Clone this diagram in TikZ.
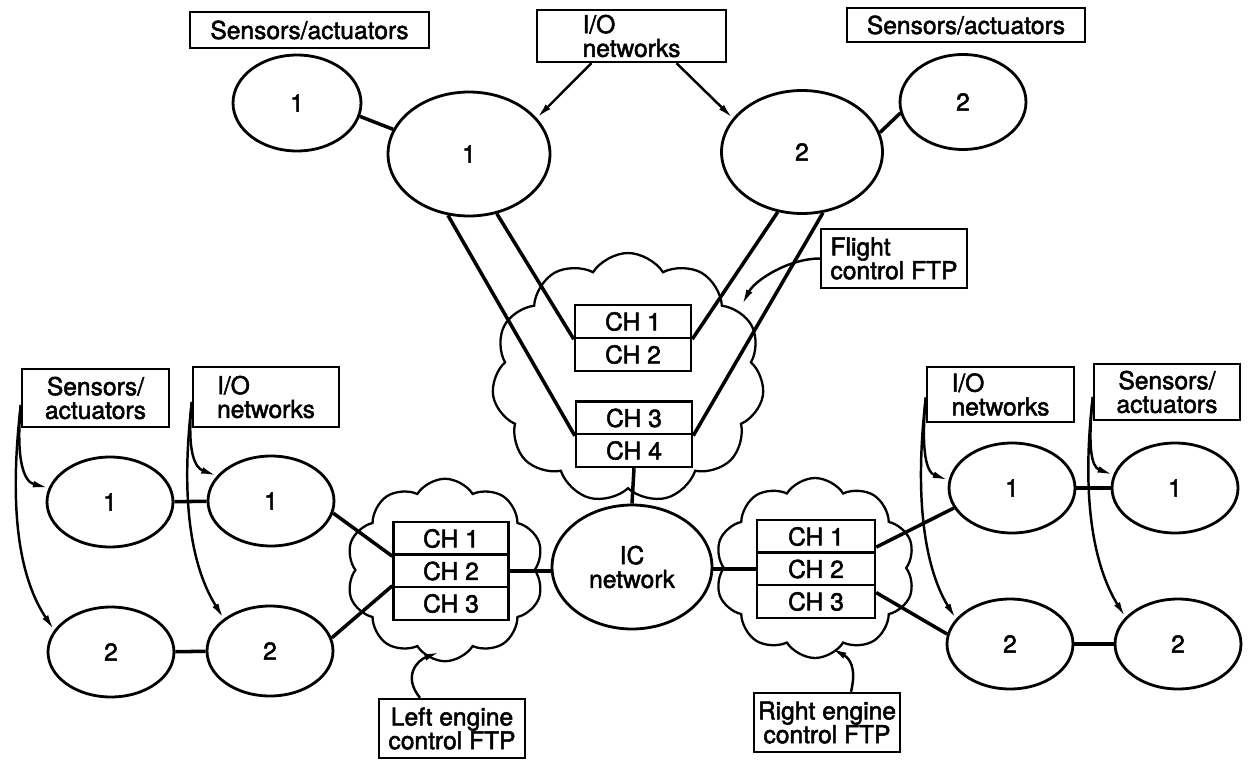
\documentclass[tikz,border=0pt]{standalone}
\usepackage{fontspec}
\setmainfont{TeX Gyre Heros}[FakeBold=2]
\usetikzlibrary{shapes.geometric,shapes.symbols,arrows.meta,calc}
\begin{document}
\begin{tikzpicture}[x=0.02cm,y=-0.02cm,
  every node/.style={font=\fontsize{14}{13.5}\selectfont},
  lbl/.style={draw,line width=1.4pt,fill=white,inner sep=2pt},
  oval/.style={ellipse,draw,line width=1.6pt,fill=white,inner sep=0pt},
  small oval/.style={oval,minimum width=2.52cm,minimum height=1.8cm},
  chan/.style={draw,line width=1.4pt,fill=white,minimum width=2.32cm,minimum height=0.66cm,inner sep=0pt},
  ftp/.style={cloud,draw,line width=1.3pt,cloud puffs=11,cloud puff arc=115,cloud ignores aspect},
  link/.style={line width=2pt},
  feed/.style={line width=1.4pt,-{Latex[length=9pt,width=3.8pt]}},
]
\useasboundingbox (0,0) rectangle (1250,760);

% fault-tolerant processors (clouds)
\node[ftp,minimum width=5.45cm,minimum height=5cm] (TC) at (628,378) {};
\node[ftp,cloud puffs=10,minimum width=3.95cm,minimum height=3.65cm] (LC) at (445,570) {};
\node[ftp,cloud puffs=10,minimum width=4cm,minimum height=3.6cm] (RC) at (815,568) {};

% channels
\node[chan] (T1) at (633,321.5) {CH 1};
\node[chan] (T2) at (633,354.5) {CH 2};
\node[chan] (T3) at (634,418) {CH 3};
\node[chan] (T4) at (634,450.5) {CH 4};
\node[chan,minimum width=2.3cm] (L1) at (451,538.5) {CH 1};
\node[chan,minimum width=2.3cm] (L2) at (451,571) {CH 2};
\node[chan,minimum width=2.3cm] (L3) at (451,603.5) {CH 3};
\node[chan,minimum width=2.36cm] (R1) at (816,536.5) {CH 1};
\node[chan,minimum width=2.36cm] (R2) at (816,569) {CH 2};
\node[chan,minimum width=2.36cm] (R3) at (816,601.5) {CH 3};

% networks
\node[oval,minimum width=2.56cm,minimum height=1.92cm] (s1) at (297,103) {1};
\node[oval,minimum width=3.24cm,minimum height=2.48cm] (E1) at (469,154) {1};
\node[oval,minimum width=3.22cm,minimum height=2.46cm] (E2) at (802,152) {2};
\node[oval,minimum width=2.52cm,minimum height=1.9cm] (s2) at (963,102) {2};
\node[oval,minimum width=3.2cm,minimum height=2.48cm,align=center] (IC) at (632,567) {IC\\network};
\node[small oval] (LS1) at (110,502) {1};
\node[small oval] (LIO1) at (271,501) {1};
\node[small oval] (LS2) at (111,652) {2};
\node[small oval] (LIO2) at (270,651) {2};
\node[small oval] (RIO1) at (1012,488) {1};
\node[small oval] (RS1) at (1175,488) {1};
\node[small oval] (RIO2) at (1010,644) {2};
\node[small oval] (RS2) at (1178,644) {2};

% labels
\node[lbl,minimum width=4.78cm,minimum height=0.72cm] (SAL) at (309.5,30) {Sensors/actuators};
\node[lbl,minimum width=3.78cm,minimum height=1.04cm,align=left] (IOT) at (631.5,36) {I/O\\networks};
\node[lbl,minimum width=4.76cm,minimum height=0.68cm] (SAR) at (966,25) {Sensors/actuators};
\node[lbl,minimum width=2.92cm,minimum height=1.18cm,align=left] (FC) at (894,258.5) {Flight\\control FTP};
\node[lbl,minimum width=2.94cm,minimum height=1.16cm,align=center] (LSB) at (95.5,398) {Sensors/\\actuators};
\node[lbl,minimum width=2.92cm,minimum height=1.2cm,align=left] (LIOB) at (266,397) {I/O\\networks};
\node[lbl,minimum width=2.94cm,minimum height=1.1cm,align=left] (RIOB) at (1000.5,394.5) {I/O\\networks};
\node[lbl,minimum width=2.92cm,minimum height=1.12cm,align=center] (RSB) at (1167,392) {Sensors/\\actuators};
\node[lbl,minimum width=2.92cm,minimum height=1.18cm,align=center,inner sep=1pt] (LE) at (452,728.5) {Left engine\\control FTP};
\node[lbl,minimum width=2.92cm,minimum height=1.18cm,align=center,inner sep=1pt] (RE) at (827,722.5) {Right engine\\control FTP};

% flight control links
\draw[link] (s1.348) -- (E1.162);
\draw[link] (E2.14) -- (s2.190);
\draw[feed] ($(IOT.south)+(-40,0)$) -- (E1.28);
\draw[feed] ($(IOT.south)+(45,0)$) -- (E2.154);
\draw[link] (E1.251) -- (T3.south west);
\draw[link] (E1.295) -- (T1.south west);
\draw[link] (E2.248) -- (T1.south east);
\draw[link] (E2.289) -- (T3.south east);
\draw[link] (T4.south) -- (IC.north);

% pointers to the processors
\coordinate (fcTip) at (742,305);
\coordinate (leTip) at (440,652);
\coordinate (reTip) at (831,648);
\draw[feed] (FC.west) .. controls +(-31,0) and +(13,-25) .. (fcTip);
\draw[feed] ($(LE.north)+(-32,0)$) .. controls +(-18,-22) and +(-22,8) .. (leTip);
\draw[feed] ($(RE.north)+(24,0)$) .. controls +(6,-25) and +(18,10) .. (reTip);

% left engine side
\draw[feed] ($(LSB.west)+(0,7)$) .. controls +(-5,55) and +(-25,-6) .. (LS1.167);
\draw[feed] ($(LSB.west)+(0,7)$) .. controls +(-14,120) and +(-30,-45) .. (LS2.159);
\draw[feed] ($(LIOB.west)+(0,5)$) .. controls +(-5,50) and +(-22,-8) .. (LIO1.155);
\draw[feed] ($(LIOB.west)+(0,5)$) .. controls +(-14,120) and +(-25,-40) .. (LIO2.145);
\draw[link] (LS1) -- (LIO1);
\draw[link] (LS2) -- (LIO2);
\draw[link] (LIO1.349) -- (L1.south west);
\draw[link] (LIO2.12) -- (L3.north west);
\draw[link] (L2.east) -- (L2.east -| IC.west);

% right engine side
\draw[feed] ($(RIOB.west)+(0,3)$) .. controls +(-5,55) and +(-22,-8) .. (RIO1.173);
\draw[feed] ($(RIOB.west)+(0,3)$) .. controls +(-14,120) and +(-25,-40) .. (RIO2.155);
\draw[feed] ($(RSB.west)+(0,5)$) .. controls +(-5,50) and +(-22,-8) .. (RS1.168);
\draw[feed] ($(RSB.west)+(0,5)$) .. controls +(-14,120) and +(-25,-40) .. (RS2.153);
\draw[link] (RIO1) -- (RS1);
\draw[link] (RIO2) -- (RS2);
\draw[link] (R2.west) -- (R2.west -| IC.east);
\draw[link] ($(R1.east)!0.6!(R1.south east)$) -- (RIO1.199);
\draw[link] ($(R3.north east)!0.5!(R3.east)$) -- (RIO2.171);
\end{tikzpicture}
\end{document}
